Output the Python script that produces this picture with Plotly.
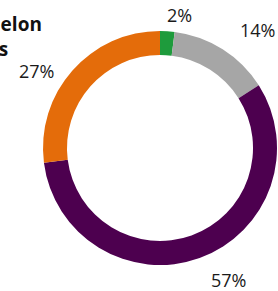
import plotly.graph_objects as go

categories = ["Green", "Gray", "Purple", "Orange"]
values = [2, 14, 57, 27]
labels_text = ["2%", "14%", "57%", "27%"]
colors = ["#1E9B3C", "#A6A6A6", "#4D004F", "#E46C0A"]
title_lines = ["Watermelon", "Varieties"]

W, H = 278, 291
cx, cy, r = 160, 148, 117

fig = go.Figure(go.Pie(
    labels=categories, values=values, sort=False, direction="clockwise",
    rotation=0, hole=0.795, marker=dict(colors=colors, line=dict(width=0)),
    textinfo="none", hoverinfo="skip", showlegend=False,
    domain=dict(x=[(cx - r) / W, (cx + r) / W], y=[(H - cy - r) / H, (H - cy + r) / H]),
))

label_pos = [(179, 15), (257, 30), (228, 280), (36, 71)]
for t, (x, y) in zip(labels_text, label_pos):
    fig.add_annotation(x=x / W, y=1 - y / H, xref="paper", yref="paper", text=t,
                       showarrow=False, font=dict(size=18, color="#1a1a1a", family="Open Sans"),
                       xanchor="center", yanchor="middle")

fig.add_annotation(x=44 / W, y=1 - 36 / H, xref="paper", yref="paper",
                   text="<br>".join("<b>" + s + "</b>" for s in title_lines),
                   showarrow=False, align="left", xanchor="right", yanchor="middle",
                   font=dict(size=19, color="#111111", family="Open Sans"))

fig.update_layout(width=W, height=H, margin=dict(l=0, r=0, t=0, b=0),
                  paper_bgcolor="white", plot_bgcolor="white")
fig.write_html("out.html", config={"displayModeBar": False},
               post_script="document.body.style.margin='0';")
